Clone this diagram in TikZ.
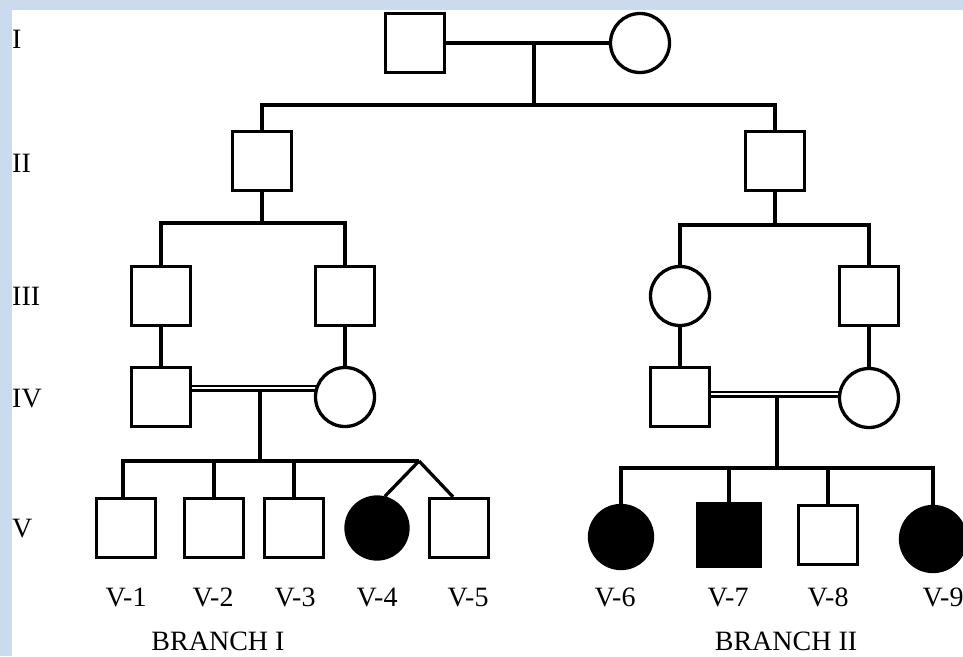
\documentclass[tikz,border=0pt]{standalone}
\usepackage{fontspec}
\setmainfont{Liberation Serif}
\pgfdeclarelayer{bgl}
\pgfdeclarelayer{edges}
\pgfsetlayers{bgl,edges,main}
\definecolor{bgblue}{RGB}{204,218,238}
\tikzset{
  male/.style={draw, line width=3.3pt, minimum size=59pt, inner sep=0pt, fill=white},
  female/.style={draw, circle, line width=3.3pt, minimum size=59pt, inner sep=0pt, fill=white},
  aff/.style={fill=black},
  ln/.style={line width=3.3pt},
  dbl/.style={double, double distance=2pt, line width=2.5pt},
  lbl/.style={inner sep=0pt, font=\fontsize{28}{30}\selectfont},
}
\begin{document}
\begin{tikzpicture}[x=1pt,y=-1pt]
\useasboundingbox (0,0) rectangle (963,656);
\begin{pgfonlayer}{bgl}
\fill[bgblue] (0,0) rectangle (963,656);
\fill[white] (12,10) rectangle (963,656);
\end{pgfonlayer}
\clip (0,0) rectangle (963,656);

% generation labels
\node[lbl, anchor=base west] (gI) at (12,48) {I};
\node[lbl, anchor=base west] (gII) at (12,172) {II};
\node[lbl, anchor=base west] (gIII) at (12,305) {III};
\node[lbl, anchor=base west] (gIV) at (12,407) {IV};
\node[lbl, anchor=base west] (gV) at (12,537) {V};

% individuals
\node[male] (I1) at (415,43) {};
\node[female] (I2) at (640,43) {};
\node[male] (II1) at (262,161) {};
\node[male] (II2) at (775,161) {};
\node[male] (III1) at (161,296) {};
\node[male] (III2) at (345,296) {};
\node[female] (III3) at (680,296) {};
\node[male] (III4) at (869,296) {};
\node[male] (IV1) at (161,397) {};
\node[female] (IV2) at (345,397) {};
\node[male] (IV3) at (680,397) {};
\node[female] (IV4) at (869,398) {};
\node[male] (V1) at (126,528) {};
\node[male] (V2) at (214,528) {};
\node[male] (V3) at (294,528) {};
\node[female, aff, minimum size=62pt] (V4) at (377,528) {};
\node[male] (V5) at (459,528) {};
\node[female, aff, minimum size=63pt] (V6) at (621,537) {};
\node[male, aff, minimum size=63pt] (V7) at (729,535) {};
\node[male] (V8) at (828,535) {};
\node[female, aff, minimum size=65pt] (V9) at (933,539) {};

% coordinates
\coordinate (m1) at (534,43);
\coordinate (s1) at (534,105);
\coordinate (s2) at (262,223);
\coordinate (s3) at (775,225);
\coordinate (m4) at (260,388);
\coordinate (s4) at (260,461);
\coordinate (t1) at (419,461);
\coordinate (m5) at (777,394);
\coordinate (s5) at (777,468);

\begin{pgfonlayer}{edges}
% generation I
\draw[ln] (I1.east) -- (I2.west);
\draw[ln] (m1) -- (s1);
\draw[ln] (II1.north) |- (s1) -| (II2.north);

% branch I
\draw[ln] (II1.south) -- (s2);
\draw[ln] (III1.north) |- (s2) -| (III2.north);
\draw[ln] (III1.south) -- (IV1.north);
\draw[ln] (III2.south) -- (IV2.north);
\draw[ln] (m4) -- (s4);
\draw[dbl] (IV1.center |- m4) -- (IV2.center |- m4);
\draw[ln] ([xshift=-3pt]V1.north) |- (t1);
\draw[ln] (V2.north) -- (V2.north |- s4);
\draw[ln] (V3.north) -- (V3.north |- s4);
\draw[ln] (t1) -- (V4.76);
\draw[ln] (t1) -- ([xshift=-6pt]V5.north);

% branch II
\draw[ln] (II2.south) -- (s3);
\draw[ln] (III3.north) |- (s3) -| (III4.north);
\draw[ln] (III3.south) -- (IV3.north);
\draw[ln] (III4.south) -- (IV4.north);
\draw[ln] (m5) -- (s5);
\draw[dbl] (IV3.center |- m5) -- (IV4.center |- m5);
\draw[ln] (V6.north) |- (s5) -| (V9.north);
\draw[ln] (V7.north) -- (V7.north |- s5);
\draw[ln] (V8.north) -- (V8.north |- s5);
\end{pgfonlayer}

% labels
\node[lbl, anchor=base] (L1) at (126,606) {V-1};
\node[lbl, anchor=base] (L2) at (213,606) {V-2};
\node[lbl, anchor=base] (L3) at (295,606) {V-3};
\node[lbl, anchor=base] (L4) at (377,606) {V-4};
\node[lbl, anchor=base] (L5) at (468,606) {V-5};
\node[lbl, anchor=base] (L6) at (615,606) {V-6};
\node[lbl, anchor=base] (L7) at (728,606) {V-7};
\node[lbl, anchor=base] (L8) at (828,606) {V-8};
\node[lbl, anchor=base] (L9) at (943,606) {V-9};
\node[lbl, anchor=base] (B1) at (218,650) {BRANCH I};
\node[lbl, anchor=base] (B2) at (786,650) {BRANCH II};
\end{tikzpicture}
\end{document}
